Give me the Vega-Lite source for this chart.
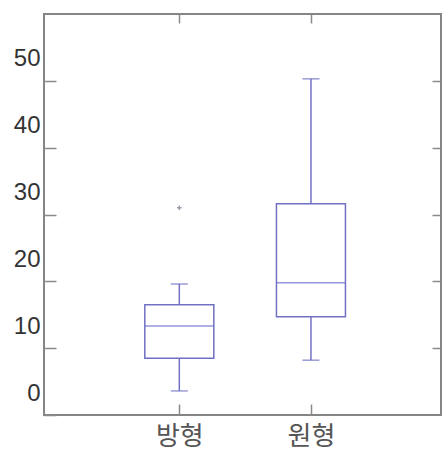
{
  "$schema": "https://vega.github.io/schema/vega-lite/v6.json",
  "width": 397,
  "height": 401,
  "autosize": {"type": "none"},
  "padding": {"left": 44, "top": 14, "right": 5, "bottom": 35},
  "background": "white",
  "config": {
    "view": {"stroke": "#858585", "strokeWidth": 2},
    "axis": {"domain": false, "grid": false, "tickColor": "#8a8a8a", "tickWidth": 1.5, "title": null}
  },
  "datasets": {
    "stats": [
      {"shape": "방형", "pos": 1, "lower": 3.6, "q1": 8.5, "median": 13.3, "q3": 16.5, "upper": 19.6},
      {"shape": "원형", "pos": 2, "lower": 8.2, "q1": 14.7, "median": 19.8, "q3": 31.6, "upper": 50.3}
    ],
    "outliers": [
      {"shape": "방형", "pos": 1, "value": 31.0}
    ]
  },
  "resolve": {"axis": {"x": "independent", "y": "independent"}},
  "layer": [
    {
      "data": {"name": "stats"},
      "mark": {"type": "rule", "color": "#7070c4", "strokeWidth": 1.5},
      "encoding": {
        "x": {"field": "pos", "type": "quantitative", "scale": {"domain": [0.01, 2.95], "nice": false, "zero": false},
          "axis": {"orient": "bottom", "values": [1, 2], "tickSize": -11, "labelPadding": 19, "labelExpr": "datum.value == 1 ? '방형' : '원형'", "labelFont": "Noto Sans CJK KR", "labelFontSize": 26, "labelColor": "#555555"}},
        "y": {"field": "lower", "type": "quantitative", "scale": {"domain": [0, 60], "nice": false, "zero": true},
          "axis": {"orient": "left", "values": [0, 10, 20, 30, 40, 50], "tickSize": -12, "labelPadding": 16, "labelOffset": -22, "labelFont": "Liberation Sans", "labelFontSize": 24, "labelColor": "#333333"}},
        "y2": {"field": "q1"}
      }
    },
    {
      "data": {"name": "stats"},
      "mark": {"type": "rule", "color": "#7070c4", "strokeWidth": 1.5},
      "encoding": {
        "x": {"field": "pos", "type": "quantitative",
          "axis": {"orient": "top", "values": [1, 2], "tickSize": -9, "labels": false}},
        "y": {"field": "q3", "type": "quantitative",
          "axis": {"orient": "right", "values": [10, 20, 30, 40, 50], "tickSize": -9, "labels": false}},
        "y2": {"field": "upper"}
      }
    },
    {
      "data": {"name": "stats"},
      "mark": {"type": "bar", "fill": "white", "fillOpacity": 0, "stroke": "#7070c4", "strokeWidth": 1.5, "width": 69},
      "encoding": {
        "x": {"field": "pos", "type": "quantitative", "axis": null},
        "y": {"field": "q1", "type": "quantitative", "axis": null},
        "y2": {"field": "q3"}
      }
    },
    {
      "data": {"name": "stats"},
      "mark": {"type": "tick", "orient": "horizontal", "color": "#6a6ad0", "size": 69, "thickness": 1.5},
      "encoding": {
        "x": {"field": "pos", "type": "quantitative", "axis": null},
        "y": {"field": "median", "type": "quantitative", "axis": null}
      }
    },
    {
      "data": {"name": "stats"},
      "mark": {"type": "tick", "orient": "horizontal", "color": "#7070c4", "size": 17, "thickness": 1.5},
      "encoding": {
        "x": {"field": "pos", "type": "quantitative", "axis": null},
        "y": {"field": "lower", "type": "quantitative", "axis": null}
      }
    },
    {
      "data": {"name": "stats"},
      "mark": {"type": "tick", "orient": "horizontal", "color": "#7070c4", "size": 17, "thickness": 1.5},
      "encoding": {
        "x": {"field": "pos", "type": "quantitative", "axis": null},
        "y": {"field": "upper", "type": "quantitative", "axis": null}
      }
    },
    {
      "data": {"name": "outliers"},
      "mark": {"type": "point", "shape": "M-1,0L1,0M0,-1L0,1", "filled": false, "stroke": "#9a9aa8", "strokeWidth": 1.5, "size": 20, "opacity": 1},
      "encoding": {
        "x": {"field": "pos", "type": "quantitative", "axis": null},
        "y": {"field": "value", "type": "quantitative", "axis": null}
      }
    }
  ]
}
